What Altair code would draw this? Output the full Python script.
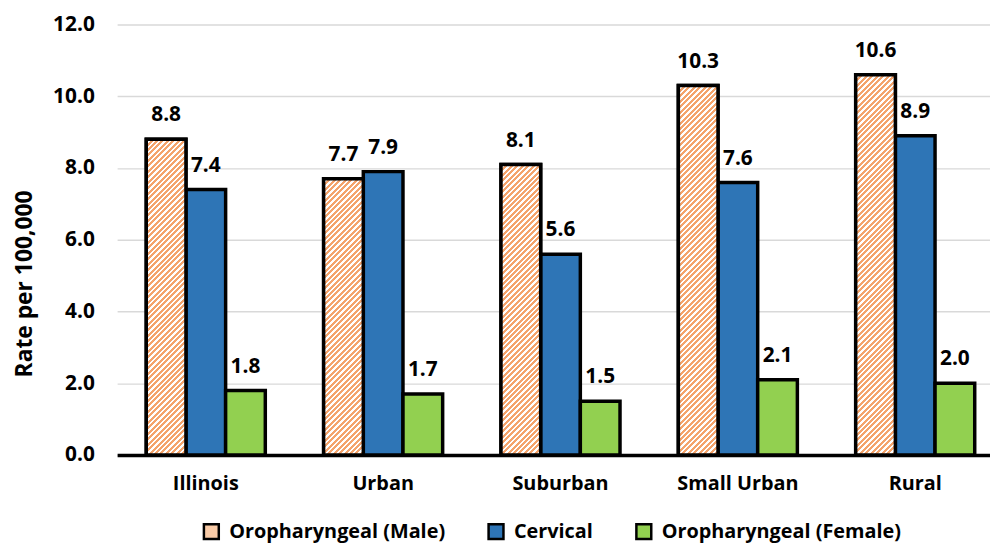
import altair as alt
import pandas as pd

# ---- data ----
categories = ["Illinois", "Urban", "Suburban", "Small Urban", "Rural"]
series_names = ["Oropharyngeal (Male)", "Cervical", "Oropharyngeal (Female)"]
male = [8.8, 7.7, 8.1, 10.3, 10.6]
cervical = [7.4, 7.9, 5.6, 7.6, 8.9]
female = [1.8, 1.7, 1.5, 2.1, 2.0]
y_ticks = [0, 2, 4, 6, 8, 10, 12]

# ---- styles ----
colors = ["#F9CBA7", "#2E75B6", "#92D050"]
HATCH_ORANGE = "#F4A46C"
FONT = "Open Sans"
W, H = 880, 434
YMAX = 12
X_RANGE = 894
PAD_OUTER = 0.735
BAR_W = X_RANGE / len(categories) / (3 + 2 * PAD_OUTER)
HATCH_PERIOD = 5.5
HATCH_FILL = 0.55

rows = []
for s, vals in zip(series_names, [male, cervical, female]):
    for c, v in zip(categories, vals):
        rows.append({"category": c, "series": s, "value": v})
df = pd.DataFrame(rows)

x_enc = alt.X(
    "category:N",
    sort=categories,
    scale=alt.Scale(domain=categories, range=[0, X_RANGE], paddingInner=0, paddingOuter=0),
    axis=alt.Axis(
        title=None, labelFont=FONT, labelFontSize=20, labelFontWeight="bold",
        labelColor="black", labelPadding=19, ticks=False, tickSize=0,
        domainColor="black", domainWidth=3.5, grid=False, labelAngle=0,
    ),
)
xoff = alt.XOffset(
    "series:N", sort=series_names,
    scale=alt.Scale(domain=series_names, paddingInner=0, paddingOuter=PAD_OUTER),
)
y_enc = alt.Y(
    "value:Q",
    scale=alt.Scale(domain=[0, YMAX], nice=False),
    axis=alt.Axis(
        values=y_ticks, format=".1f", title="Rate per 100,000",
        titleFont=FONT, titleFontSize=23, titleFontWeight="bold", titleColor="black",
        titleX=-93.5, titleY=261, titleAngle=270, titleAlign="center", titleBaseline="middle",
        labelFont=FONT, labelFontSize=21, labelFontWeight="bold", labelColor="black",
        labelPadding=23, ticks=False, tickSize=0, domain=False,
        grid=True, gridColor="#D9D9D9", gridWidth=1.5,
    ),
)

base = alt.Chart(df).mark_bar(stroke="black", strokeWidth=3.5).encode(
    x=x_enc,
    xOffset=xoff,
    y=y_enc,
    fill=alt.Fill(
        "series:N",
        scale=alt.Scale(domain=series_names, range=colors),
        legend=alt.Legend(
            orient="none", legendX=85, legendY=501, direction="horizontal",
            title=None, symbolType="square", symbolSize=225,
            symbolStrokeColor="black", symbolStrokeWidth=2.5,
            labelFont=FONT, labelFontSize=20, labelFontWeight="bold",
            labelColor="black", labelOffset=8, columnPadding=38,
            padding=0, labelLimit=400,
        ),
    ),
)


def hatch_gradient(value):
    w = BAR_W
    h = value / YMAX * H
    total = w + h
    k = total / (w * w + h * h)
    stops = []
    pos = 0.0
    while pos < total:
        a = pos / total
        b = min((pos + HATCH_PERIOD * HATCH_FILL) / total, 1.0)
        c = min((pos + HATCH_PERIOD) / total, 1.0)
        stops += [
            alt.GradientStop(offset=a, color=HATCH_ORANGE),
            alt.GradientStop(offset=b, color=HATCH_ORANGE),
            alt.GradientStop(offset=b, color="white"),
            alt.GradientStop(offset=c, color="white"),
        ]
        pos += HATCH_PERIOD
    return alt.LinearGradient(gradient="linear", stops=stops, x1=0, y1=0, x2=w * k, y2=h * k)


hatch_layers = []
for cat, v in zip(categories, male):
    layer = (
        alt.Chart(df)
        .transform_filter(
            (alt.datum.category == cat) & (alt.datum.series == series_names[0])
        )
        .mark_bar(fill=hatch_gradient(v), stroke="black", strokeWidth=3.5)
        .encode(x=x_enc, xOffset=xoff, y=y_enc)
    )
    hatch_layers.append(layer)

labels = alt.Chart(df).mark_text(
    font=FONT, fontSize=21, fontWeight="bold", color="black",
    baseline="alphabetic", dy=-18,
).encode(
    x=x_enc, xOffset=xoff, y=y_enc,
    text=alt.Text("value:Q", format=".1f"),
)

chart = (
    alt.layer(base, *hatch_layers, labels)
    .properties(
        width=W, height=H,
        padding={"left": 110, "top": 14.5, "right": 0, "bottom": 87.5},
        autosize=alt.AutoSizeParams(type="none"),
        background="white",
    )
    .configure_view(stroke=None)
)

chart.save("out.html", embed_options={"renderer": "svg", "actions": False})
